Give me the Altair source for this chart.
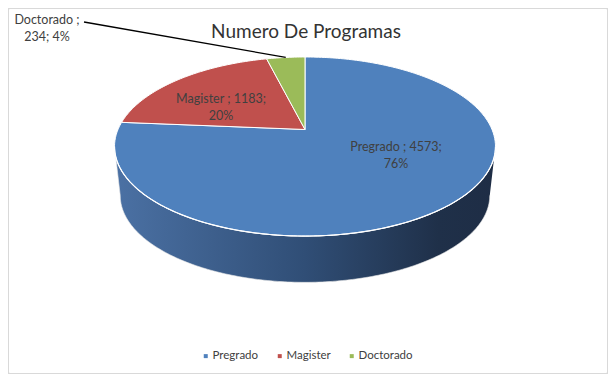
import numpy as np
import pandas as pd
import altair as alt

# ---- data ----
categories = ["Pregrado", "Magister", "Doctorado"]
values = [4573, 1183, 234]
colors = ["#4f81bd", "#c0504d", "#9bbb59"]
title_text = "Numero De Programas"

# ---- layout (reference pixel space) ----
CX, CY = 305.0, 129.5          # projected pie centre
A, B, K = 86.3, 187.0, 0.19    # vertical / horizontal radius and perspective factor (top face)
BOT_SCALE, BOT_DY = 0.97, 49.5  # bottom face of the cylinder
label_pos = {"Pregrado": (396, 147), "Magister": (221, 99), "Doctorado": (47, 20)}
leader_start = (84, 22)

total = float(sum(values))
fracs = [v / total for v in values]
pcts = [int(round(f * 100)) for f in fracs]
cum = np.concatenate([[0.0], np.cumsum(fracs)])


def proj(theta_deg, bottom=False):
    t = np.radians(theta_deg)
    u, v = np.sin(t), np.cos(t)
    s = 1.0 / (1.0 + K * v)
    if bottom:
        return CX + BOT_SCALE * B * u * s, CY + BOT_DY - BOT_SCALE * A * v * s
    return CX + B * u * s, CY - A * v * s


# top face slices
rows = []
for k, c in enumerate(categories):
    a0, a1 = cum[k] * 360, cum[k + 1] * 360
    rows.append({"cat": c, "i": 0, "x": CX, "y": CY})
    angs = np.linspace(a0, a1, max(3, int((a1 - a0) / 1.0) + 2))
    for j, a in enumerate(angs):
        x, y = proj(a)
        rows.append({"cat": c, "i": j + 1, "x": x, "y": y})
    rows.append({"cat": c, "i": len(angs) + 1, "x": CX, "y": CY})
slices = pd.DataFrame(rows)

# visible side of the cylinder (between the two silhouette angles)
sil = np.degrees(np.arccos(-K))
front = np.linspace(sil, 360 - sil, 181)
side_rows = []
for j, a in enumerate(front):
    x, y = proj(a)
    side_rows.append({"i": j, "x": x, "y": y})
for j, a in enumerate(front[::-1]):
    x, y = proj(a, bottom=True)
    side_rows.append({"i": 200 + j, "x": x, "y": y})
side = pd.DataFrame(side_rows)

# labels
lab_rows = []
for c, v, p in zip(categories, values, pcts):
    if c == "Doctorado":
        txt = f"{c} ;\n{v}; {p}%"
    else:
        txt = f"{c} ; {v};\n{p}%"
    lx, ly = label_pos[c]
    lab_rows.append({"cat": c, "txt": txt, "x": lx, "y": ly})
labels = pd.DataFrame(lab_rows)

# leader line for the smallest slice
mid = (cum[2] + cum[3]) / 2 * 360
ex, ey = proj(mid)
leader = pd.DataFrame({"x": [leader_start[0], ex], "y": [leader_start[1], ey], "i": [0, 1]})

title_df = pd.DataFrame({"t": [title_text], "x": [306], "y": [32]})

xs = alt.Scale(domain=[8, 608], nice=False, zero=False)
ys = alt.Scale(domain=[8, 374], nice=False, zero=False, reverse=True)
X = lambda: alt.X("x:Q", scale=xs, axis=None)
Y = lambda: alt.Y("y:Q", scale=ys, axis=None)

grad = alt.Gradient(
    gradient="linear",
    x1=0, x2=1, y1=0, y2=0,
    stops=[
        alt.GradientStop(offset=0, color="#4b71a4"),
        alt.GradientStop(offset=0.5, color="#304e76"),
        alt.GradientStop(offset=0.85, color="#1f3049"),
        alt.GradientStop(offset=1, color="#1e2d45"),
    ],
)

side_layer = alt.Chart(side).mark_line(fill=grad, stroke="#e8e8e8", strokeWidth=0.6).encode(
    x=X(), y=Y(), order="i:Q"
)

top_layer = alt.Chart(slices).mark_line(stroke="white", strokeWidth=1).encode(
    x=X(), y=Y(), order="i:Q", detail="cat:N",
    fill=alt.Fill(
        "cat:N",
        scale=alt.Scale(domain=categories, range=colors),
        sort=categories,
        legend=alt.Legend(
            title=None, orient="none", direction="horizontal",
            legendX=192, legendY=342, symbolType="square", symbolSize=16,
            symbolStrokeWidth=0, labelFont="Lato", labelFontSize=11.5,
            labelColor="#404040", columnPadding=15, labelOffset=1,
        ),
    ),
)

edge_layer = alt.Chart(side[side.i < 200]).mark_line(stroke="white", strokeWidth=1.2).encode(
    x=X(), y=Y(), order="i:Q"
)

leader_layer = alt.Chart(leader).mark_line(stroke="black", strokeWidth=1.3).encode(
    x=X(), y=Y(), order="i:Q"
)

label_layer = alt.Chart(labels).mark_text(
    font="Lato", fontSize=12.5, color="#404040", lineBreak="\n", lineHeight=17, align="center", baseline="middle"
).encode(x=X(), y=Y(), text="txt:N")

title_layer = alt.Chart(title_df).mark_text(
    font="Lato", fontSize=19, color="#333333", align="center", baseline="middle"
).encode(x=X(), y=Y(), text="t:N")

chart = alt.layer(
    side_layer, top_layer, edge_layer, leader_layer, label_layer, title_layer
).properties(
    width=600, height=366, autosize=alt.AutoSizeParams(type="none"), padding=0, background="white"
).configure_view(stroke="#d9d9d9", strokeWidth=2, cornerRadius=2)

chart.save("out.html", embed_options={"renderer": "svg", "actions": False})
